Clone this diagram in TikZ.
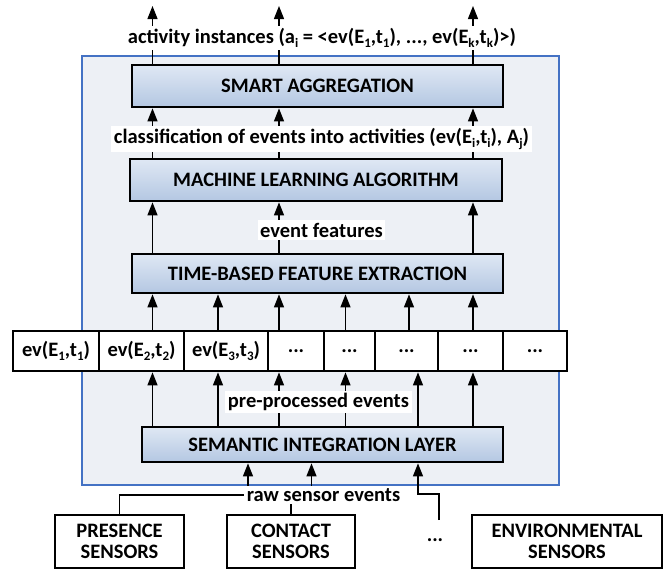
\documentclass[tikz,border=0pt]{standalone}
\usepackage{fontspec}
\setmainfont{Carlito}
\usetikzlibrary{arrows.meta}

\definecolor{frameblue}{RGB}{68,114,196}
\definecolor{framefill}{RGB}{237,240,245}
\definecolor{boxtop}{RGB}{223,232,244}
\definecolor{boxbot}{RGB}{180,199,226}

% small lowered index for event and activity labels
\newcommand{\lowidx}[1]{\raisebox{-0.35ex}{\fontsize{13}{13}\selectfont #1}}

\tikzset{
  every node/.style={font=\fontsize{20.5}{21}\selectfont\bfseries},
  frame/.style={draw=frameblue, line width=2.2pt, fill=framefill, inner sep=0pt},
  layer/.style={draw=black, line width=2.8pt, top color=boxtop, bottom color=boxbot,
                minimum height=42pt, inner sep=0pt},
  cell/.style={draw=black, line width=2.8pt, fill=white, minimum height=40pt, inner sep=0pt},
  sensor/.style={draw=black, line width=2.8pt, fill=white, minimum height=53pt,
                 align=center, inner sep=0pt},
  tag/.style={fill=white, inner sep=2.5pt},
  flow/.style={-{Triangle[length=13pt,width=10pt]}, line width=1.3pt},
  wire/.style={line width=1.3pt},
}

\begin{document}
\begin{tikzpicture}[x=1pt, y=-1pt]
\useasboundingbox (0,0) rectangle (664,571);

% processing frame
\node[frame, minimum width=477pt, minimum height=429pt] (frame) at (320.5,270.5) {};

% processing layers
\node[layer, minimum width=371pt] (sa)  at (317.5,86)  {SMART AGGREGATION};
\node[layer, minimum width=372pt] (ml)  at (316,180)   {MACHINE LEARNING ALGORITHM};
\node[layer, minimum width=371pt, minimum height=39pt] (tb) at (317.5,273.5) {TIME-BASED FEATURE EXTRACTION};
\node[layer, minimum width=361pt, minimum height=35pt] (sem) at (322.5,444.5) {SEMANTIC INTEGRATION LAYER};

% event row
\node[cell, minimum width=86pt] (ev1) at (56,351)    {ev(E\lowidx{1},t\lowidx{1})};
\node[cell, minimum width=85pt] (ev2) at (141.5,351) {ev(E\lowidx{2},t\lowidx{2})};
\node[cell, minimum width=84pt] (ev3) at (226,351)   {ev(E\lowidx{3},t\lowidx{3})};
\node[cell, minimum width=56pt] (ev4) at (296,351)   {...};
\node[cell, minimum width=51pt] (ev5) at (349.5,351) {...};
\node[cell, minimum width=63pt] (ev6) at (406.5,351) {...};
\node[cell, minimum width=65pt] (ev7) at (470.5,351) {...};
\node[cell, minimum width=64pt] (ev8) at (535,351)   {...};

% sensors
\node[sensor, minimum width=129pt] (pres) at (119.5,541.5) {PRESENCE\\SENSORS};
\node[sensor, minimum width=128pt] (cont) at (291,541.5)   {CONTACT\\SENSORS};
\node[sensor, minimum width=190pt] (env)  at (567,541.5)   {ENVIRONMENTAL\\SENSORS};
\node (more) at (435,540) {...};

% arrow columns
\coordinate (cA) at (152.5,0);
\coordinate (cB) at (218,0);
\coordinate (cC) at (279,0);
\coordinate (cD) at (345.5,0);
\coordinate (cE) at (409,0);
\coordinate (cE2) at (418,0);
\coordinate (cF) at (473,0);
\coordinate (cR1) at (248,0);
\coordinate (cR2) at (311.5,0);

% outputs
\coordinate (o1) at (152.5,6);
\coordinate (o2) at (279,6);
\coordinate (o3) at (473,6);
\draw[flow] (sa.north -| o1) -- (o1);
\draw[flow] (sa.north -| o2) -- (o2);
\draw[flow] (sa.north -| o3) -- (o3);

% classification into aggregation, features into learning
\foreach \c in {cA,cC,cF}{
  \draw[flow] (ml.north -| \c) -- (sa.south -| \c);
  \draw[flow] (tb.north -| \c) -- (ml.south -| \c);
}

% events into feature extraction, integration into events
\foreach \c in {cA,cB,cC,cD,cE,cF}{
  \draw[flow] (ev1.north -| \c) -- (tb.south -| \c);
}
\foreach \c in {cA,cB,cC,cD,cE2,cF}{
  \draw[flow] (sem.north -| \c) -- (ev1.south -| \c);
}

% labels over the arrows
\node[tag] (act)  at (322,38)    {activity instances (a\lowidx{i} = <ev(E\lowidx{1},t\lowidx{1}), ..., ev(E\lowidx{k},t\lowidx{k})>)};
\node[tag] (cls)  at (321.5,139) {classification of events into activities (ev(E\lowidx{i},t\lowidx{i}), A\lowidx{j})};
\node[tag] (feat) at (321.5,230) {event features};
\node[tag] (pre)  at (318.5,402) {pre-processed events};
\node[tag] (raw)  at (323.5,495) {raw sensor events};

% raw sensor events into integration layer
\draw[flow] (raw.north -| cR1) -- (sem.south -| cR1);
\draw[flow] (raw.north -| cR2) -- (sem.south -| cR2);
\draw[wire] (pres.north) |- (raw.west);
\draw[wire] (cont.north) -- (raw.south -| cont.north);
\coordinate (mtop) at (439,520);
\coordinate (mkink) at (418,494);
\draw[flow] (mtop) |- (mkink) -- (sem.south -| mkink);
\end{tikzpicture}
\end{document}
